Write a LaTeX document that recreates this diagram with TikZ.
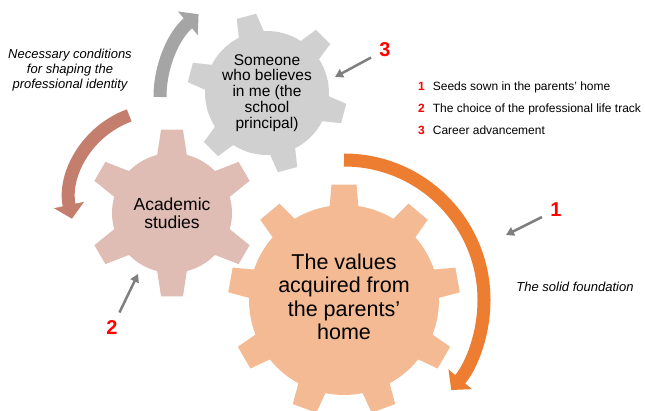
\documentclass[tikz,border=0pt]{standalone}
\usepackage{fontspec}
\setmainfont{Liberation Sans}
\usetikzlibrary{arrows.meta,positioning}
\definecolor{cogPeach}{HTML}{F4BA94}
\definecolor{cogRose}{HTML}{DFBDB4}
\definecolor{cogGrey}{HTML}{D0D0D0}
\definecolor{arcOrange}{HTML}{ED7D31}
\definecolor{arcBrown}{HTML}{C47E6E}
\definecolor{arcGrey}{HTML}{A5A5A5}
\definecolor{pointerGrey}{HTML}{7F7F7F}

% cog outline: teeth, root radius, tip radius, first tooth angle,
% half-angle of a tooth at the root, half-angle at the tip
\newcommand{\cogpath}[6]{%
  ({#4-#5}:#2)
  \foreach \k [evaluate=\k as \a using #4+360*(\k-1)/#1] in {1,...,#1}{
    -- ({\a-#5}:#2) -- ({\a-#6}:#3) -- ({\a+#6}:#3) -- ({\a+#5}:#2)
    arc[start angle={\a+#5}, end angle={\a+360/#1-#5}, radius=#2]
  } -- cycle}

\begin{document}
\begin{tikzpicture}[x=1pt,y=1pt,
  cogtext/.style={align=center,text=black,inner sep=0pt},
  band/.style={line width=13pt,-{Triangle[width=30pt,length=14pt]}},
  pointer/.style={draw=pointerGrey,line width=2.5pt,
                  -{Triangle[width=9pt,length=8pt]},shorten <=7pt},
  marker/.style={text=red,font=\fontsize{20}{20}\selectfont\bfseries,inner sep=2pt},
  legend/.style={anchor=base west,inner sep=0pt,font=\fontsize{12}{12}\selectfont},
  note/.style={align=center,font=\fontsize{13}{15}\selectfont\itshape}]
  \useasboundingbox (0,0) rectangle (645,-411);
  \clip (0,0) rectangle (645,-411);

  \coordinate (big) at (344,-300);
  \coordinate (mid) at (172,-213);
  \coordinate (top) at (267,-93);

  % the three cogs
  \fill[cogPeach,shift={(big)}] \cogpath{9}{95}{116}{90}{8.7}{6.2};
  \fill[cogRose,shift={(mid)}] \cogpath{6}{60}{84}{90}{14.3}{7.5};
  \fill[cogGrey,shift={(top)}] \cogpath{6}{62}{80}{105}{12}{7.2};

  % curved arrows round the cogs
  \draw[band,arcOrange] ([shift={(90:140)}]big)
    arc[start angle=90, end angle=-40, radius=140];
  \draw[band,arcBrown] (160,-200) ++(110:90)
    arc[start angle=110, end angle=192, radius=90];
  \draw[band,arcGrey] (268,-97) ++(180:108)
    arc[start angle=180, end angle=130, radius=108];

  \node[cogtext,font=\fontsize{21.5}{23.5}\selectfont] (values) at (344,-297)
    {The values\\acquired from\\the parents’\\home};
  \node[cogtext,font=\fontsize{17.5}{18.5}\selectfont] (studies) at (mid)
    {Academic\\studies};
  \node[cogtext,font=\fontsize{15.5}{15.8}\selectfont] (believer) at (top)
    {Someone\\who believes\\in me (the\\school\\principal)};

  \node[note] (conditions) at (70,-70)
    {Necessary conditions\\for shaping the\\professional identity};
  \node[note] (foundation) at (575,-287) {The solid foundation};

  % numbered pointers
  \node[marker] (m1) at (556,-210) {1};
  \node[marker] (m2) at (112,-328) {2};
  \node[marker] (m3) at (385,-50) {3};
  \coordinate (p1) at (506,-235);
  \coordinate (p2) at (138,-274);
  \coordinate (p3) at (335,-77);
  \draw[pointer] (m1) -- (p1);
  \draw[pointer] (m2) -- (p2);
  \draw[pointer] (m3) -- (p3);

  % key
  \node[legend] (l1) at (418,-91)
    {\textcolor{red}{\textbf{1}}\hspace{8pt}Seeds sown in the parents’ home};
  \node[legend,below=22pt of l1.base west,anchor=base west] (l2)
    {\textcolor{red}{\textbf{2}}\hspace{8pt}The choice of the professional life track};
  \node[legend,below=22pt of l2.base west,anchor=base west] (l3)
    {\textcolor{red}{\textbf{3}}\hspace{8pt}Career advancement};
\end{tikzpicture}
\end{document}
